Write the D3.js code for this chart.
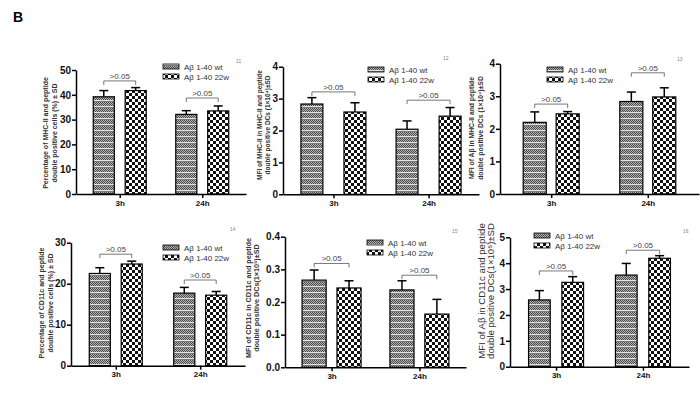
<!DOCTYPE html>
<meta charset="utf-8">
<style type="text/css">
body { margin: 0; background: #fff; }
svg { font-family: "Liberation Sans", Arial, sans-serif; }
.axis path, .axis line { stroke: #000; stroke-width: 1.5px; }
.axis text { font-weight: bold; fill: #111; }
.bar { stroke: #000; stroke-width: 1.2px; }
.err { stroke: #000; stroke-width: 1.5px; fill: none; }
.bracket { stroke: #555; stroke-width: 0.8px; fill: none; }
</style>
<body>
<script src="https://d3js.org/d3.v7.min.js"></script>
<script>
// data, one entry per panel (1..6)
const categories = ["3h", "24h"];
const seriesNames = ["A\u03b2 1-40 wt", "A\u03b2 1-40 22w"];
const wtMeans  = [[39.2, 32.1], [2.83, 2.04], [2.20, 2.84], [22.5, 17.7], [0.267, 0.237], [2.58, 3.54]];
const wtSD     = [[2.5, 1.5], [0.20, 0.26], [0.32, 0.29], [1.4, 1.4], [0.031, 0.028], [0.36, 0.45]];
const w22Means = [[41.7, 33.5], [2.58, 2.45], [2.46, 2.98], [24.8, 17.2], [0.243, 0.163], [3.26, 4.19]];
const w22SD    = [[1.2, 2.0], [0.29, 0.27], [0.07, 0.28], [0.7, 0.9], [0.022, 0.045], [0.22, 0.10]];
const yMax     = [50, 4, 4, 30, 0.4, 5];
const yStep    = [10, 1, 1, 10, 0.1, 1];
const yFormat  = ["d", "d", "d", "d", ".1f", "d"];
const bracketLevels = [[45.6, 38.7], [3.21, 2.95], [2.76, 3.72], [27.2, 20.9], [0.318, 0.282], [3.70, 4.5]];
const bracketText = ">0.05";
const yLabels = [
  ["Percentage of MHC-II and peptide", "double positive cells (%) \u00b1 SD"],
  ["MFI of MHC-II in MHC-II and peptide", "double positive DCs  (1\u00d710\u2074)\u00b1SD"],
  ["MFI of A\u03b2 in MHC-II and peptide", "double positive DCs  (1\u00d710\u2074)\u00b1SD"],
  ["Percentage of CD11c and peptide", "double positive cells (%) \u00b1 SD"],
  ["MFI of CD11c in CD11c and peptide", "double positive DCs(1\u00d710\u2075)\u00b1SD"],
  ["MFI of A\u03b2 in CD11c and peptide", "double positive DCs(1\u00d710\u2075)\u00b1SD"]
];
const panelNumbers = ["11", "12", "13", "14", "15", "16"];

// panel placement
const layout = [
  {x0: 76,  x1: 246, y0: 70,    y1: 194,   gw: 53, pad: 0.34, lx: 163, ly: 64,  tx: 46,  cy: 133, fs: 7,   ls: 9,   nx: 236, ny: 63},
  {x0: 283, x1: 479, y0: 66.7,  y1: 194.3, gw: 65, pad: 0.49, lx: 368, ly: 67,  tx: 260, cy: 125, fs: 6.5, ls: 7.5, nx: 443, ny: 60},
  {x0: 500, x1: 699, y0: 63.7,  y1: 194,   gw: 56, pad: 0.3,  lx: 547, ly: 67,  tx: 472, cy: 128, fs: 6.8, ls: 8.5, nx: 677, ny: 61},
  {x0: 71,  x1: 245, y0: 242.7, y1: 365.7, gw: 53, pad: 0.34, lx: 163, ly: 245, tx: 42,  cy: 303, fs: 7,   ls: 9,   nx: 230, ny: 231},
  {x0: 285, x1: 466, y0: 236.7, y1: 367.3, gw: 59, pad: 0.31, lx: 367, ly: 240, tx: 248, cy: 298, fs: 7.2, ls: 8.5, nx: 452, ny: 233},
  {x0: 510, x1: 689, y0: 237.3, y1: 366.7, gw: 55, pad: 0.35, lx: 534, ly: 233, tx: 482, cy: 291, fs: 9.6, ls: 9,   nx: 683, ny: 233}
];

const svg = d3.select("body").append("svg")
  .attr("width", 700)
  .attr("height", 395);

// fill patterns
const defs = svg.append("defs");
const pWt = defs.append("pattern").attr("id", "pat-wt")
  .attr("patternUnits", "userSpaceOnUse").attr("width", 4).attr("height", 6);
pWt.append("rect").attr("width", 4).attr("height", 6).attr("fill", "#b4b4b4");
[[0,0],[2,0],[1,1],[3,1],[0,2],[2,2],[1,3],[3,3]].forEach(function(p) {
  pWt.append("rect").attr("x", p[0]).attr("y", p[1]).attr("width", 1).attr("height", 1).attr("fill", "#4a4a4a");
});
pWt.append("rect").attr("y", 4).attr("width", 4).attr("height", 1).attr("fill", "#e2e2e2");
pWt.append("rect").attr("y", 5).attr("width", 4).attr("height", 1).attr("fill", "#7a7a7a");

const pW22 = defs.append("pattern").attr("id", "pat-22w")
  .attr("patternUnits", "userSpaceOnUse").attr("width", 6).attr("height", 6);
pW22.append("rect").attr("width", 6).attr("height", 6).attr("fill", "#fff");
pW22.append("rect").attr("width", 3).attr("height", 3).attr("fill", "#111");
pW22.append("rect").attr("x", 3).attr("y", 3).attr("width", 3).attr("height", 3).attr("fill", "#111");

const fills = ["url(#pat-wt)", "url(#pat-22w)"];

// panel letter
svg.append("text").attr("x", 13).attr("y", 22)
  .attr("font-size", 14).attr("font-weight", "bold").text("B");

layout.forEach(function(L, i) {
  const g = svg.append("g");

  const x = d3.scalePoint().domain(categories).range([L.x0, L.x1]).padding(0.53);
  const xs = d3.scaleBand().domain(seriesNames).range([-L.gw / 2, L.gw / 2]).paddingInner(L.pad);
  const y = d3.scaleLinear().domain([0, yMax[i]]).range([L.y1, L.y0]);

  const rows = [];
  categories.forEach(function(c, j) {
    rows.push({cat: c, s: 0, v: wtMeans[i][j], sd: wtSD[i][j]});
    rows.push({cat: c, s: 1, v: w22Means[i][j], sd: w22SD[i][j]});
  });
  const cx = d => x(d.cat) + xs(seriesNames[d.s]) + xs.bandwidth() / 2;

  // error bars (upper only)
  const err = g.selectAll(".err").data(rows).enter().append("g").attr("class", "err");
  err.append("line")
    .attr("x1", cx).attr("x2", cx)
    .attr("y1", d => y(d.v))
    .attr("y2", d => y(d.v + d.sd));
  err.append("line")
    .attr("x1", d => cx(d) - 4.5)
    .attr("x2", d => cx(d) + 4.5)
    .attr("y1", d => y(d.v + d.sd))
    .attr("y2", d => y(d.v + d.sd));

  // bars
  g.selectAll(".bar").data(rows).enter().append("rect")
    .attr("class", "bar")
    .attr("x", d => x(d.cat) + xs(seriesNames[d.s]))
    .attr("y", d => y(d.v))
    .attr("width", xs.bandwidth())
    .attr("height", d => y(0) - y(d.v))
    .attr("fill", d => fills[d.s]);

  // axes
  const ticks = d3.range(0, yMax[i] + yStep[i] / 2, yStep[i]);
  g.append("g").attr("class", "axis")
    .attr("transform", "translate(" + L.x0 + ",0)")
    .call(d3.axisLeft(y).tickValues(ticks).tickFormat(d3.format(yFormat[i])).tickSize(4).tickSizeOuter(0).tickPadding(1))
    .selectAll("text").attr("font-size", 10).attr("font-family", "Liberation Sans, Arial, sans-serif");
  g.append("g").attr("class", "axis")
    .attr("transform", "translate(0," + L.y1 + ")")
    .call(d3.axisBottom(x).tickSize(4).tickSizeOuter(0).tickPadding(2))
    .selectAll("text").attr("font-size", 8).attr("font-family", "Liberation Sans, Arial, sans-serif");

  // significance brackets
  categories.forEach(function(c, j) {
    const xa = cx({cat: c, s: 0});
    const xb = cx({cat: c, s: 1});
    const yb = y(bracketLevels[i][j]);
    g.append("path").attr("class", "bracket")
      .attr("d", "M" + xa + "," + (yb + 4) + "V" + yb + "H" + xb + "V" + (yb + 4));
    g.append("text").attr("x", (xa + xb) / 2).attr("y", yb - 2)
      .attr("text-anchor", "middle").attr("font-size", 8).attr("fill", "#444")
      .text(bracketText);
  });

  // legend
  seriesNames.forEach(function(s, k) {
    const ly = L.ly + k * 10;
    g.append("rect").attr("x", L.lx).attr("y", ly).attr("width", 16).attr("height", 5)
      .attr("fill", fills[k]).attr("stroke", "#000").attr("stroke-width", 0.8);
    g.append("text").attr("x", L.lx + 21).attr("y", ly + 5.5)
      .attr("font-size", 8).attr("fill", "#333").text(s);
  });

  // y-axis title (two lines)
  const t = g.append("text")
    .attr("transform", "translate(" + L.tx + "," + L.cy + ") rotate(-90)")
    .attr("text-anchor", "middle")
    .attr("font-size", L.fs)
    .attr("font-weight", i === 5 ? "normal" : "bold")
    .attr("fill", "#333");
  t.append("tspan").attr("x", 0).attr("y", 0).attr("dy", "0.35em").text(yLabels[i][0]);
  t.append("tspan").attr("x", 0).attr("y", L.ls).attr("dy", "0.35em").text(yLabels[i][1]);

  // small panel number
  g.append("text").attr("x", L.nx).attr("y", L.ny)
    .attr("font-size", 5).attr("fill", "#888").text(panelNumbers[i]);
});
</script>
</body>
</html>
